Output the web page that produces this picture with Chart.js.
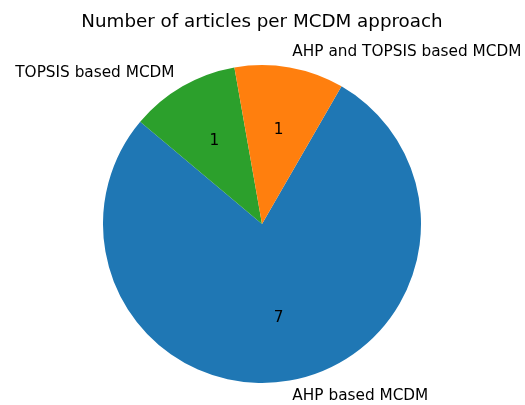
<!DOCTYPE html>
<html lang="en">
<head>
    <meta charset="UTF-8">
    <title>Number of articles per MCDM approach</title>
    <script src="https://cdn.jsdelivr.net/npm/chart.js"></script>
    <style>
        html, body { margin: 0; padding: 0; background: #fff; }
        #wrap { width: 525px; height: 405px; }
    </style>
</head>
<body>
    <div id="wrap"><canvas id="pieChart"></canvas></div>
    <script>
        // slices in clockwise order, starting from the orange/blue edge
        const approaches = ['AHP based MCDM', 'TOPSIS based MCDM', 'AHP and TOPSIS based MCDM'];
        const articleCounts = [7, 1, 1];
        const sliceColors = ['#1f77b4', '#2ca02c', '#ff7f0e'];
        const chartTitle = 'Number of articles per MCDM approach';

        const FONT = "'DejaVu Sans', sans-serif";

        // draws title, outer labels and counts the way matplotlib places them
        const pieText = {
            id: 'pieText',
            afterDraw(chart) {
                const ctx = chart.ctx;
                ctx.save();
                ctx.fillStyle = '#000';
                ctx.textAlign = 'center';
                ctx.textBaseline = 'middle';
                ctx.font = '18.3px ' + FONT;
                ctx.fillText(chartTitle, 262, 22);

                const arcs = chart.getDatasetMeta(0).data;
                arcs.forEach((arc, i) => {
                    const mid = (arc.startAngle + arc.endAngle) / 2;
                    const r = arc.outerRadius;
                    const cx = Math.cos(mid), cy = Math.sin(mid);
                    ctx.font = '15.3px ' + FONT;
                    // category label at 1.1 r
                    ctx.textAlign = cx > 0 ? 'left' : 'right';
                    ctx.fillText(approaches[i], arc.x + 1.1 * r * cx, arc.y + 1.1 * r * cy);
                    // count at 0.6 r
                    ctx.textAlign = 'center';
                    ctx.fillText(String(articleCounts[i]), arc.x + 0.6 * r * cx, arc.y + 0.6 * r * cy);
                });
                ctx.restore();
            }
        };

        new Chart(document.getElementById('pieChart'), {
            type: 'pie',
            data: {
                labels: approaches,
                datasets: [{
                    data: articleCounts,
                    backgroundColor: sliceColors,
                    borderWidth: 0
                }]
            },
            options: {
                responsive: true,
                maintainAspectRatio: false,
                animation: false,
                rotation: 30,
                layout: { padding: { left: 103, right: 104, top: 65, bottom: 22 } },
                plugins: {
                    legend: { display: false },
                    title: { display: false },
                    tooltip: { enabled: false }
                }
            },
            plugins: [pieText]
        });
    </script>
</body>
</html>
